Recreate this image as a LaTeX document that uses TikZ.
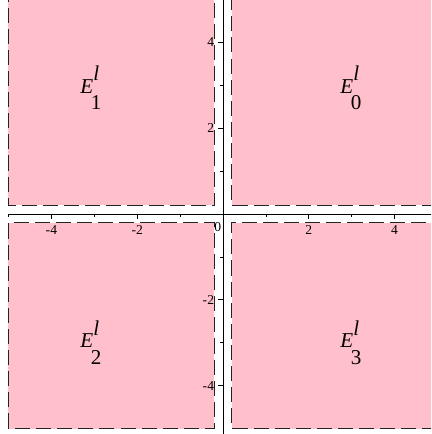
\documentclass[tikz,border=0pt]{standalone}
\usepackage{fontspec}
\setmainfont{Liberation Serif}
\usepackage{tikz}
\definecolor{regionpink}{RGB}{255,192,203}
\definecolor{edgedark}{RGB}{35,35,35}
\newcommand{\Elab}[1]{\textit{E}\rlap{\raisebox{0.6em}{\textit{l}}}\kern-0.12em\raisebox{-0.78em}{#1}}

\begin{document}
\begin{tikzpicture}[x=1cm,y=1cm,
  border/.style={draw=edgedark,line width=0.8pt,dash pattern=on 10pt off 4pt},
  ticklab/.style={font=\fontsize{9}{10}\selectfont,inner sep=0pt},
  elab/.style={font=\fontsize{14}{16}\selectfont,inner sep=0pt,anchor=base west}]
\useasboundingbox (-5.198,-5.128) rectangle (4.848,4.988);
\clip (-5.198,-5.128) rectangle (4.848,4.988);

% regions
\fill[regionpink] (-5,0.2) rectangle (-0.2,5.3);
\fill[regionpink] (0.2,0.2) rectangle (5.3,5.3);
\fill[regionpink] (-5,-5) rectangle (-0.2,-0.2);
\fill[regionpink] (0.2,-5) rectangle (5.3,-0.2);

% region edges
\draw[border] (-5,5.3) -- (-5,0.2) -- (-0.2,0.2) -- (-0.2,5.3);
\draw[border] (5,0.2) -- (0.2,0.2) -- (0.2,5.3);
\draw[border] (-5,-5) rectangle (-0.2,-0.2);
\draw[border] (5,-5) -- (0.2,-5) -- (0.2,-0.2) -- (5,-0.2);

% axes
\draw[line width=0.6pt] (-5,0) -- (4.9,0);
\draw[line width=0.6pt] (0,-5.2) -- (0,5.1);
\foreach \x in {-5,-3,-1,1,3}
  \draw[line width=0.5pt] (\x,0) -- (\x,-0.06);
\foreach \x in {-4,-2,2,4}
  \draw[line width=0.5pt] (\x,0) -- (\x,-0.11) node[ticklab] (xt\x) at (\x,-0.38) {\x};
\foreach \y in {-3,-1,1,3}
  \draw[line width=0.5pt] (0,\y) -- (-0.06,\y);
\foreach \y in {-4,-2,2,4}
  \draw[line width=0.5pt] (0,\y) -- (-0.11,\y) node[ticklab,anchor=east] (yt\y) at (-0.2,\y) {\y};
\node[ticklab] (orig) at (-0.12,-0.3) {0};

% labels
\node[elab] (e1) at (-3.33,2.82) {\Elab{1}};
\node[elab] (e0) at (2.73,2.82) {\Elab{0}};
\node[elab] (e2) at (-3.33,-3.12) {\Elab{2}};
\node[elab] (e3) at (2.73,-3.12) {\Elab{3}};
\end{tikzpicture}
\end{document}
